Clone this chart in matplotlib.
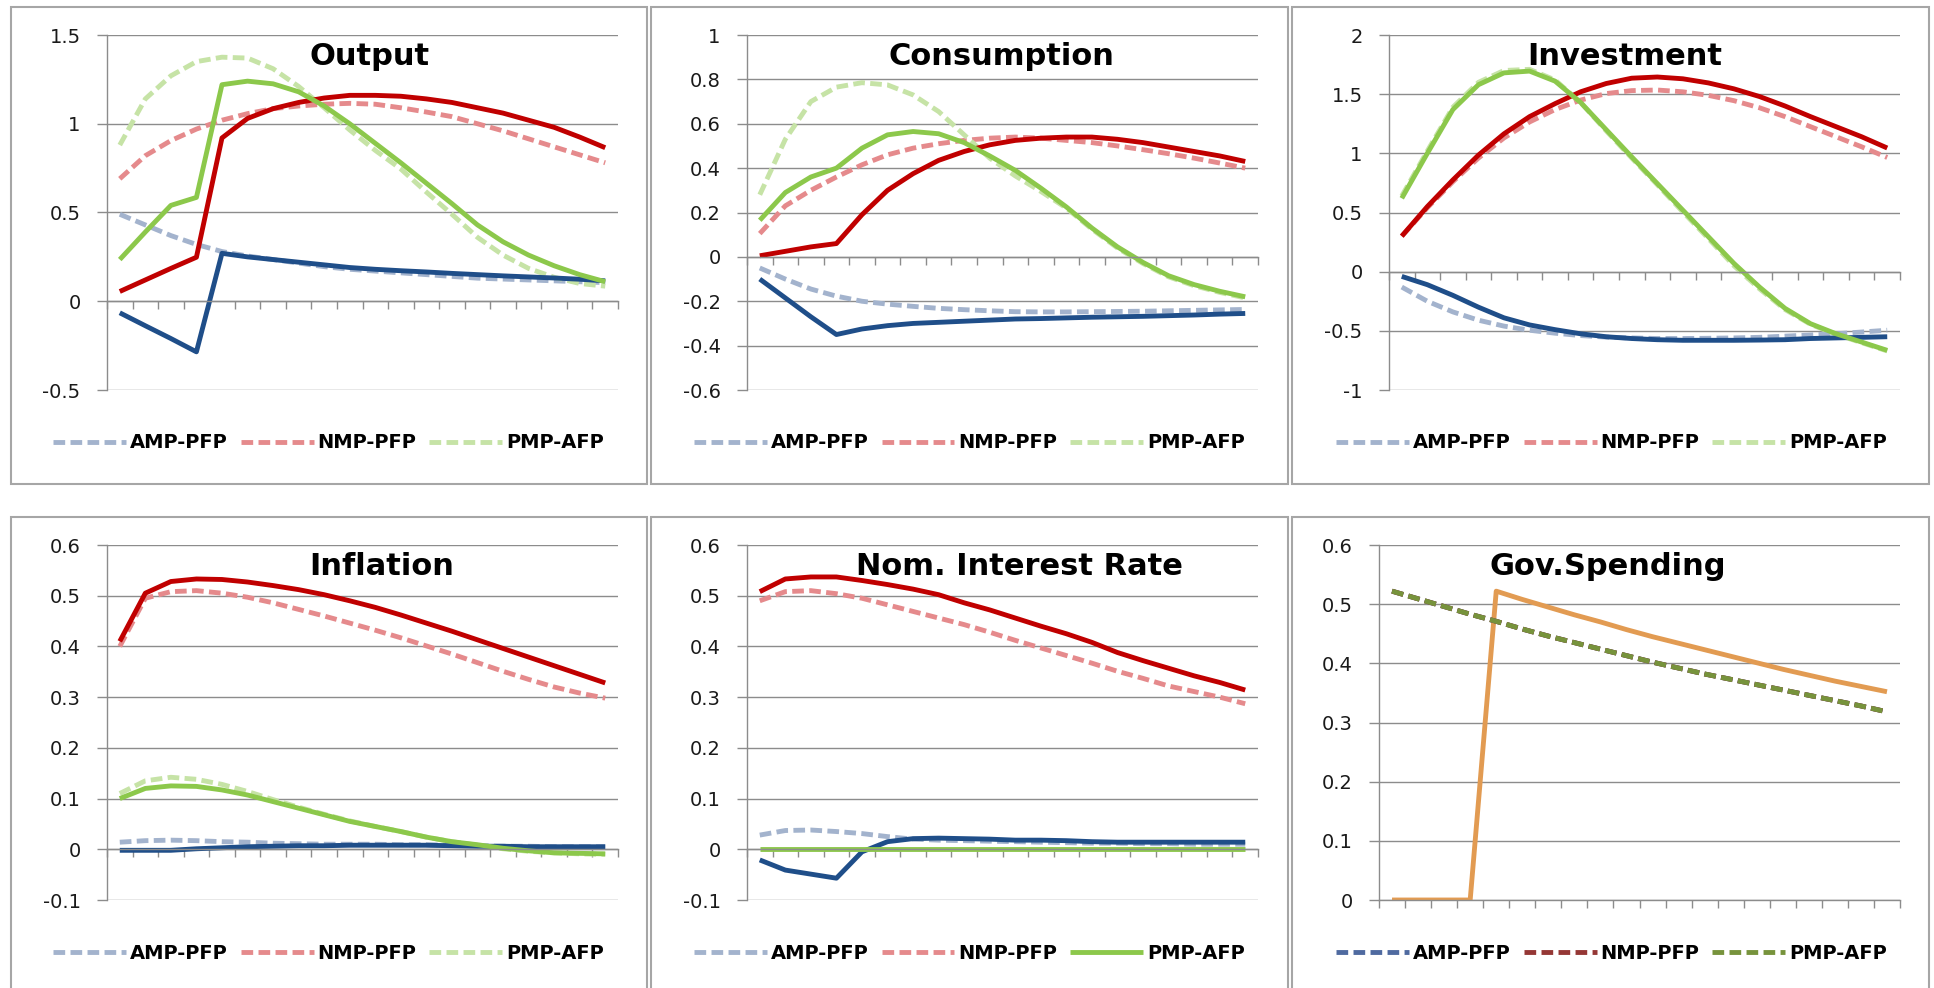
import numpy as np
import matplotlib
matplotlib.use("Agg")
import matplotlib.pyplot as plt
from matplotlib.patches import Rectangle

# Impulse responses, 20 periods.
periods = list(range(1, 21))
legend_labels = ["AMP-PFP", "NMP-PFP", "PMP-AFP"]

# Output
output_amp_dash = [0.49, 0.43, 0.37, 0.32, 0.28, 0.255, 0.235, 0.215, 0.195, 0.18,
                   0.17, 0.16, 0.15, 0.14, 0.13, 0.125, 0.12, 0.115, 0.11, 0.105]
output_nmp_dash = [0.69, 0.82, 0.905, 0.97, 1.02, 1.057, 1.085, 1.10, 1.11, 1.115,
                   1.11, 1.09, 1.066, 1.04, 1.0, 0.96, 0.915, 0.87, 0.825, 0.78]
output_pmp_dash = [0.88, 1.14, 1.27, 1.35, 1.375, 1.37, 1.31, 1.21, 1.09, 0.965,
                   0.85, 0.745, 0.615, 0.49, 0.36, 0.26, 0.185, 0.135, 0.1, 0.085]
output_amp = [-0.065, -0.138, -0.21, -0.285, 0.27, 0.25, 0.235, 0.22, 0.205, 0.19,
              0.18, 0.172, 0.165, 0.157, 0.15, 0.143, 0.137, 0.131, 0.124, 0.115]
output_nmp = [0.055, 0.12, 0.185, 0.248, 0.92, 1.03, 1.085, 1.12, 1.145, 1.16,
              1.16, 1.155, 1.14, 1.12, 1.09, 1.06, 1.02, 0.98, 0.925, 0.865]
output_pmp = [0.235, 0.39, 0.54, 0.585, 1.22, 1.24, 1.225, 1.18, 1.10, 1.0,
              0.89, 0.78, 0.665, 0.55, 0.43, 0.335, 0.26, 0.2, 0.15, 0.11]
output_yticks = [-0.5, 0, 0.5, 1, 1.5]

# Consumption
cons_amp_dash = [-0.05, -0.1, -0.145, -0.177, -0.2, -0.213, -0.223, -0.232, -0.238, -0.243,
                 -0.247, -0.248, -0.248, -0.247, -0.246, -0.245, -0.243, -0.241, -0.239, -0.237]
cons_nmp_dash = [0.105, 0.23, 0.30, 0.36, 0.415, 0.46, 0.49, 0.51, 0.525, 0.535,
                 0.54, 0.535, 0.525, 0.515, 0.50, 0.483, 0.465, 0.445, 0.423, 0.40]
cons_pmp_dash = [0.28, 0.53, 0.70, 0.765, 0.785, 0.775, 0.73, 0.655, 0.55, 0.445,
                 0.365, 0.295, 0.22, 0.125, 0.04, -0.03, -0.09, -0.13, -0.16, -0.185]
cons_amp = [-0.1, -0.185, -0.27, -0.35, -0.325, -0.31, -0.3, -0.295, -0.29, -0.285,
            -0.28, -0.278, -0.275, -0.272, -0.27, -0.268, -0.265, -0.262, -0.258, -0.255]
cons_nmp = [0.005, 0.025, 0.045, 0.06, 0.19, 0.3, 0.375, 0.435, 0.475, 0.505,
            0.525, 0.535, 0.54, 0.54, 0.53, 0.515, 0.495, 0.475, 0.455, 0.43]
cons_pmp = [0.165, 0.29, 0.36, 0.40, 0.49, 0.55, 0.565, 0.555, 0.515, 0.455,
            0.39, 0.31, 0.225, 0.13, 0.045, -0.025, -0.085, -0.125, -0.155, -0.18]
cons_yticks = [-0.6, -0.4, -0.2, 0, 0.2, 0.4, 0.6, 0.8, 1]

# Investment
inv_amp_dash = [-0.13, -0.25, -0.34, -0.41, -0.46, -0.495, -0.52, -0.54, -0.553, -0.56,
                -0.565, -0.565, -0.563, -0.56, -0.555, -0.545, -0.535, -0.525, -0.51, -0.495]
inv_nmp_dash = [0.3, 0.54, 0.76, 0.96, 1.13, 1.265, 1.37, 1.45, 1.505, 1.53,
                1.535, 1.52, 1.49, 1.445, 1.385, 1.31, 1.225, 1.14, 1.055, 0.965]
inv_pmp_dash = [0.64, 1.02, 1.39, 1.6, 1.7, 1.71, 1.62, 1.43, 1.19, 0.96,
                0.735, 0.505, 0.28, 0.05, -0.145, -0.32, -0.445, -0.53, -0.6, -0.67]
inv_amp = [-0.04, -0.11, -0.2, -0.3, -0.39, -0.45, -0.49, -0.525, -0.55, -0.565,
           -0.575, -0.58, -0.58, -0.58, -0.578, -0.575, -0.565, -0.56, -0.555, -0.55]
inv_nmp = [0.3, 0.55, 0.775, 0.985, 1.165, 1.31, 1.42, 1.52, 1.59, 1.635,
           1.645, 1.63, 1.595, 1.545, 1.48, 1.4, 1.31, 1.225, 1.14, 1.045]
inv_pmp = [0.62, 1.0, 1.37, 1.58, 1.68, 1.695, 1.61, 1.43, 1.2, 0.97,
           0.745, 0.52, 0.295, 0.07, -0.13, -0.31, -0.44, -0.525, -0.595, -0.665]
inv_yticks = [-1, -0.5, 0, 0.5, 1, 1.5, 2]

# Inflation
infl_amp_dash = [0.014, 0.017, 0.018, 0.017, 0.015, 0.014, 0.012, 0.011, 0.01, 0.01,
                 0.01, 0.009, 0.009, 0.008, 0.007, 0.006, 0.006, 0.005, 0.005, 0.005]
infl_nmp_dash = [0.40, 0.495, 0.508, 0.51, 0.505, 0.497, 0.486, 0.473, 0.46, 0.446,
                 0.432, 0.417, 0.401, 0.385, 0.368, 0.351, 0.335, 0.32, 0.308, 0.298]
infl_pmp_dash = [0.11, 0.135, 0.142, 0.138, 0.128, 0.114, 0.098, 0.083, 0.069, 0.056,
                 0.045, 0.035, 0.024, 0.015, 0.008, 0.001, -0.004, -0.007, -0.009, -0.01]
infl_amp = [-0.002, -0.002, -0.002, 0.001, 0.003, 0.005, 0.006, 0.007, 0.007, 0.008,
            0.008, 0.008, 0.008, 0.007, 0.006, 0.006, 0.005, 0.005, 0.005, 0.005]
infl_nmp = [0.41, 0.505, 0.528, 0.533, 0.532, 0.527, 0.52, 0.512, 0.502, 0.49,
            0.477, 0.462, 0.446, 0.43, 0.413, 0.396, 0.379, 0.362, 0.345, 0.328]
infl_pmp = [0.1, 0.12, 0.125, 0.124, 0.117, 0.107, 0.094, 0.081, 0.068, 0.055,
            0.045, 0.035, 0.024, 0.015, 0.009, 0.002, -0.003, -0.007, -0.008, -0.009]
infl_yticks = [-0.1, 0, 0.1, 0.2, 0.3, 0.4, 0.5, 0.6]

# Nominal interest rate
rate_amp_dash = [0.028, 0.037, 0.038, 0.035, 0.031, 0.025, 0.02, 0.018, 0.017, 0.016,
                 0.015, 0.014, 0.013, 0.012, 0.012, 0.011, 0.011, 0.01, 0.01, 0.01]
rate_nmp_dash = [0.49, 0.508, 0.51, 0.504, 0.495, 0.482, 0.469, 0.456, 0.443, 0.428,
                 0.412, 0.397, 0.382, 0.367, 0.351, 0.337, 0.322, 0.311, 0.3, 0.287]
rate_amp = [-0.021, -0.041, -0.049, -0.057, -0.005, 0.015, 0.021, 0.022, 0.021, 0.02,
            0.018, 0.018, 0.017, 0.015, 0.014, 0.014, 0.014, 0.014, 0.014, 0.014]
rate_nmp = [0.508, 0.533, 0.537, 0.537, 0.53, 0.522, 0.513, 0.502, 0.486, 0.472,
            0.456, 0.44, 0.425, 0.408, 0.388, 0.372, 0.357, 0.342, 0.329, 0.314]
rate_pmp = [0, 0, 0, 0, 0, 0, 0, 0, 0, 0, 0, 0, 0, 0, 0, 0, 0, 0, 0, 0]
rate_yticks = [-0.1, 0, 0.1, 0.2, 0.3, 0.4, 0.5, 0.6]

# Government spending
gov_solid = [0, 0, 0, 0, 0.522, 0.508, 0.495, 0.482, 0.47, 0.457,
             0.445, 0.434, 0.423, 0.412, 0.401, 0.39, 0.38, 0.37, 0.361, 0.352]
gov_dash = [0.522, 0.509, 0.496, 0.483, 0.471, 0.458, 0.446, 0.435, 0.424, 0.413,
            0.402, 0.392, 0.382, 0.373, 0.364, 0.355, 0.346, 0.337, 0.328, 0.318]
gov_yticks = [0, 0.1, 0.2, 0.3, 0.4, 0.5, 0.6]

# Colours
C_AMP, C_AMP_D = "#1f4e89", "#a3b3cd"
C_NMP, C_NMP_D = "#c00000", "#e58a8c"
C_PMP, C_PMP_D = "#8cc84b", "#c6e3a6"
C_GOV = "#e29b52"
C_GOV_AMP, C_GOV_NMP, C_GOV_PMP = "#4f6aa0", "#953735", "#77933c"
GRID = "#8c8c8c"

W, H = 1934, 988
LW = 3.5
DASH = (2.4, 1.1)


def fx(px):
    return px / W


def fy(py):
    return 1 - py / H


def dashed(values, color, label):
    return (values, color, "dash", label)


def solid(values, color, label=None):
    return (values, color, "solid", label)


panels = [
    dict(title="Output", yticks=output_yticks, plot=(107, 35, 618, 390), box=(11, 7, 647, 484),
         title_xy=(370, 65), legend_xy=(53, 443),
         lines=[dashed(output_amp_dash, C_AMP_D, legend_labels[0]),
                dashed(output_nmp_dash, C_NMP_D, legend_labels[1]),
                dashed(output_pmp_dash, C_PMP_D, legend_labels[2]),
                solid(output_amp, C_AMP), solid(output_nmp, C_NMP), solid(output_pmp, C_PMP)]),
    dict(title="Consumption", yticks=cons_yticks, plot=(747, 35, 1258, 390), box=(651, 7, 1288, 484),
         title_xy=(1001, 65), legend_xy=(694, 443),
         lines=[dashed(cons_amp_dash, C_AMP_D, legend_labels[0]),
                dashed(cons_nmp_dash, C_NMP_D, legend_labels[1]),
                dashed(cons_pmp_dash, C_PMP_D, legend_labels[2]),
                solid(cons_amp, C_AMP), solid(cons_nmp, C_NMP), solid(cons_pmp, C_PMP)]),
    dict(title="Investment", yticks=inv_yticks, plot=(1389, 35, 1900, 390), box=(1292, 7, 1929, 484),
         title_xy=(1625, 65), legend_xy=(1336, 443),
         lines=[dashed(inv_amp_dash, C_AMP_D, legend_labels[0]),
                dashed(inv_nmp_dash, C_NMP_D, legend_labels[1]),
                dashed(inv_pmp_dash, C_PMP_D, legend_labels[2]),
                solid(inv_amp, C_AMP), solid(inv_nmp, C_NMP), solid(inv_pmp, C_PMP)]),
    dict(title="Inflation", yticks=infl_yticks, plot=(107, 545, 618, 900), box=(11, 517, 647, 998),
         title_xy=(382, 575), legend_xy=(53, 953),
         lines=[dashed(infl_amp_dash, C_AMP_D, legend_labels[0]),
                dashed(infl_nmp_dash, C_NMP_D, legend_labels[1]),
                dashed(infl_pmp_dash, C_PMP_D, legend_labels[2]),
                solid(infl_amp, C_AMP), solid(infl_nmp, C_NMP), solid(infl_pmp, C_PMP)]),
    dict(title="Nom. Interest Rate", yticks=rate_yticks, plot=(747, 545, 1258, 900), box=(651, 517, 1288, 998),
         title_xy=(1019, 575), legend_xy=(694, 953),
         lines=[dashed(rate_amp_dash, C_AMP_D, legend_labels[0]),
                dashed(rate_nmp_dash, C_NMP_D, legend_labels[1]),
                solid(rate_amp, C_AMP), solid(rate_nmp, C_NMP),
                solid(rate_pmp, C_PMP, legend_labels[2])]),
    dict(title="Gov.Spending", yticks=gov_yticks, plot=(1379, 545, 1900, 900), box=(1292, 517, 1929, 998),
         title_xy=(1608, 575), legend_xy=(1336, 953),
         lines=[solid(gov_solid, C_GOV),
                dashed(gov_dash, C_GOV_AMP, legend_labels[0]),
                dashed(gov_dash, C_GOV_NMP, legend_labels[1]),
                dashed(gov_dash, C_GOV_PMP, legend_labels[2])]),
]

fig = plt.figure(figsize=(W / 100, H / 100), dpi=100)
fig.patch.set_facecolor("white")

for p in panels:
    x0, y0, x1, y1 = p["box"]
    fig.add_artist(Rectangle((fx(x0), fy(y1)), (x1 - x0) / W, (y1 - y0) / H,
                             transform=fig.transFigure, fill=False, ec="#a6a6a6", lw=1.5))

    l, t, r, b = p["plot"]
    ax = fig.add_axes([fx(l), fy(b), (r - l) / W, (b - t) / H])

    for values, color, style, label in p["lines"]:
        kw = dict(color=color, lw=LW, label=label, solid_capstyle="butt", solid_joinstyle="round")
        if style == "dash":
            ax.plot(periods, values, dashes=DASH, dash_capstyle="butt", **kw)
        else:
            ax.plot(periods, values, **kw)

    yt = p["yticks"]
    ax.set_ylim(yt[0], yt[-1])
    ax.set_xlim(0.5, 20.5)
    ax.set_yticks(yt)
    ax.set_yticklabels([f"{v:g}" for v in yt])
    ax.set_xticks(np.arange(0.5, 21, 1))
    ax.set_xticklabels([])

    ax.set_axisbelow(True)
    ax.grid(axis="y", color=GRID, lw=1.0)
    for side in ("top", "right"):
        ax.spines[side].set_visible(False)
    ax.spines["bottom"].set_position(("data", 0))
    for side in ("left", "bottom"):
        ax.spines[side].set_color(GRID)
        ax.spines[side].set_linewidth(1.0)
    ax.tick_params(axis="y", direction="out", length=7, width=1, color=GRID,
                   pad=12, labelsize=14, labelcolor="#1a1a1a")
    ax.tick_params(axis="x", direction="out", length=6, width=1, color=GRID)
    ax.patch.set_alpha(0)

    tx, ty = p["title_xy"]
    fig.text(fx(tx), fy(ty), p["title"], ha="center", va="baseline",
             fontsize=22, fontweight="bold")

    lx, ly = p["legend_xy"]
    ax.legend(loc="center left", bbox_to_anchor=(fx(lx), fy(ly)), bbox_transform=fig.transFigure,
              ncol=3, frameon=False, prop={"size": 14, "weight": "bold"},
              handlelength=3.75, handletextpad=0.2, columnspacing=0.67,
              borderpad=0, borderaxespad=0)

fig.savefig("out.png", dpi=100, facecolor="white")
